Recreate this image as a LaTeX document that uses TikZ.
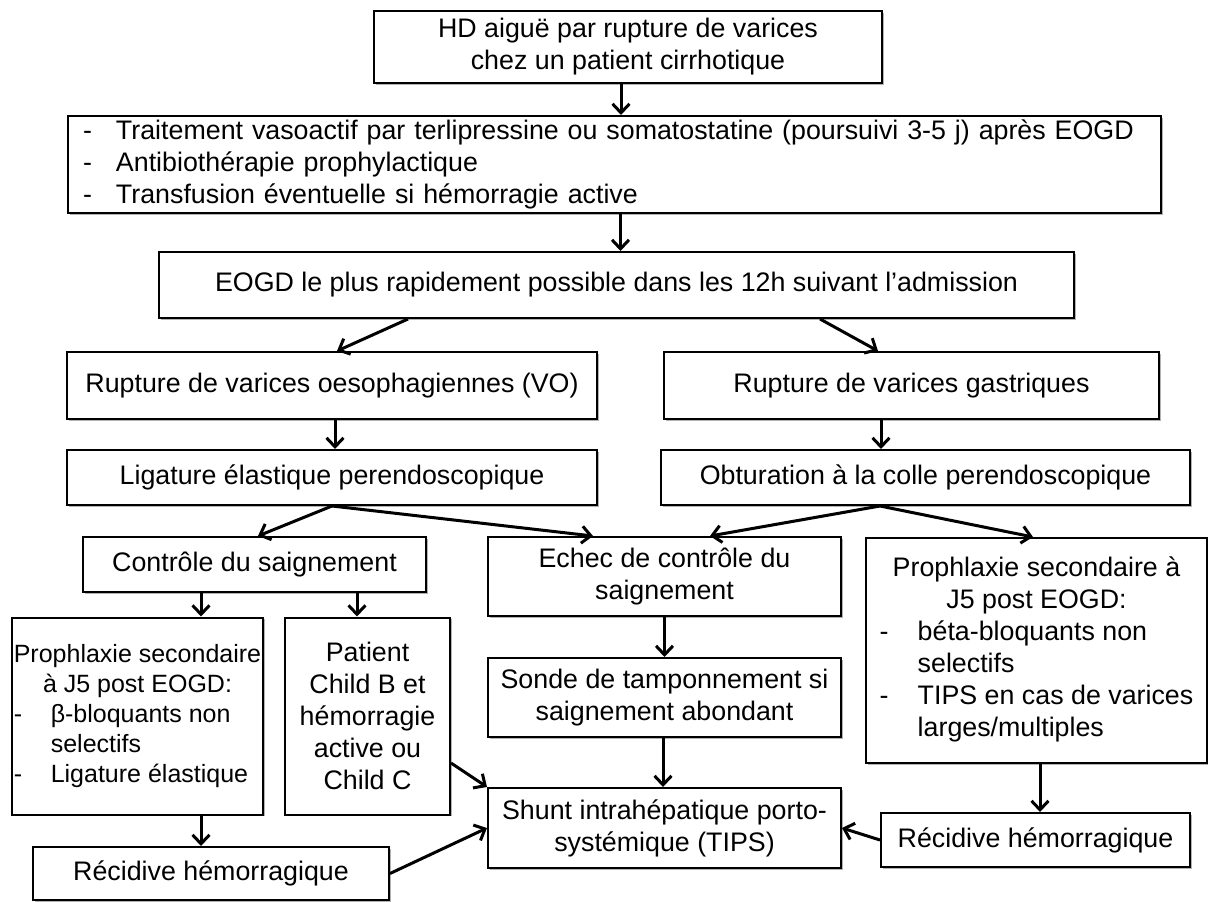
\documentclass[tikz,border=0pt]{standalone}
\usepackage{fontspec}
\setmainfont{Liberation Sans}
\usepackage{tikz}
\usetikzlibrary{positioning, arrows.meta, shadows, calc}
\newcommand{\Dash}[1][37pt]{\makebox[#1][l]{-}}
\tikzset{
    box/.style={draw, line width=2pt, fill=white, inner sep=0pt, align=center,
      font=\fontsize{26.8pt}{32pt}\selectfont,
      drop shadow={shadow xshift=1.5pt, shadow yshift=-1.5pt, opacity=0.3, fill=black}},
    flow/.style={line width=3pt, -{Straight Barb[length=9pt,width=17pt]}},
}

\begin{document}
\begin{tikzpicture}[x=1pt, y=-1pt]
    \useasboundingbox (0,0) rectangle (1208,902);

    \node[box, minimum width=508, minimum height=72] (hd) at (628,47)
      {HD aiguë par rupture de varices\\chez un patient cirrhotique};
    \node[box, minimum width=1093, minimum height=97, text width=1063, align=left] (trt) at (614.5,164.5)
      {\Dash[33pt]Traitement vasoactif par terlipressine ou somatostatine (poursuivi 3-5 j) après EOGD\\
       \Dash[33pt]Antibiothérapie prophylactique\\
       \Dash[33pt]Transfusion éventuelle si hémorragie active};
    \node[box, minimum width=915, minimum height=66] (eogd) at (616.5,285)
      {EOGD le plus rapidement possible dans les 12h suivant l’admission};

    \node[box, minimum width=530, minimum height=67] (vo) at (332,385.5)
      {Rupture de varices oesophagiennes (VO)};
    \node[box, minimum width=495, minimum height=67] (gas) at (911.5,385.5)
      {Rupture de varices gastriques};
    \node[box, minimum width=530, minimum height=55] (lig) at (332,477.5)
      {Ligature élastique perendoscopique};
    \node[box, minimum width=529, minimum height=55] (obt) at (925.5,477.5)
      {Obturation à la colle perendoscopique};

    \node[box, minimum width=343, minimum height=55] (ctrl) at (254.5,564.5)
      {Contrôle du saignement};
    \node[box, minimum width=353, minimum height=79] (echec) at (664.5,576.5)
      {Echec de contrôle du\\saignement};
    \node[box, minimum width=341, minimum height=225] (proR) at (1036.5,650.5)
      {\begin{tabular}{@{}l@{}l@{}}
         \multicolumn{2}{@{}c@{}}{Prophlaxie secondaire à}\\
         \multicolumn{2}{@{}c@{}}{J5 post EOGD:}\\
         \Dash[38pt] & béta-bloquants non\\
                     & selectifs\\
         \Dash[38pt] & TIPS en cas de varices\\
                     & larges/multiples
       \end{tabular}};

    \node[box, minimum width=251, minimum height=197, font=\fontsize{25pt}{30pt}\selectfont] (proL) at (137.5,716)
      {\begin{tabular}{@{}l@{}l@{}}
         \multicolumn{2}{@{}c@{}}{Prophlaxie secondaire}\\
         \multicolumn{2}{@{}c@{}}{à J5 post EOGD:}\\
         \Dash & β-bloquants non\\
               & selectifs\\
         \Dash & Ligature élastique
       \end{tabular}};
    \node[box, minimum width=165, minimum height=197] (pat) at (367.5,716)
      {Patient\\Child B et\\hémorragie\\active ou\\Child C};
    \node[box, minimum width=353, minimum height=79] (sonde) at (664.5,697.5)
      {Sonde de tamponnement si\\saignement abondant};
    \node[box, minimum width=353, minimum height=80] (shunt) at (664.5,828)
      {Shunt intrahépatique porto-\\systémique (TIPS)};
    \node[box, minimum width=356, minimum height=53] (recL) at (211,873.5)
      {Récidive hémorragique};
    \node[box, minimum width=309, minimum height=54] (recR) at (1035.5,840)
      {Récidive hémorragique};

    \draw[flow] ([xshift=-7pt]hd.south) -- ([xshift=-7pt]hd.south |- trt.north);
    \draw[flow] ([xshift=6pt]trt.south) -- ([xshift=6pt]trt.south |- eogd.north);
    \draw[flow] ([xshift=-208.5pt]eogd.south) -- ([xshift=5pt]vo.north);
    \draw[flow] ([xshift=203.5pt]eogd.south) -- ([xshift=-33.5pt]gas.north);
    \draw[flow] ([xshift=3pt]vo.south) -- ([xshift=3pt]lig.north);
    \draw[flow] ([xshift=-30.5pt]gas.south) -- ([xshift=-44.5pt]obt.north);
    \draw[flow] (lig.south) -- ([xshift=3.5pt]ctrl.north);
    \draw[flow] (lig.south) -- ([xshift=-71.5pt]echec.north);
    \draw[flow] ([xshift=-45.5pt]obt.south) -- ([xshift=45.5pt]echec.north);
    \draw[flow] ([xshift=-45.5pt]obt.south) -- ([xshift=-3.5pt]proR.north);
    \draw[flow] ([xshift=-53.5pt]ctrl.south) -- ([xshift=-53.5pt]ctrl.south |- proL.north);
    \draw[flow] ([xshift=102.5pt]ctrl.south) -- ([xshift=102.5pt]ctrl.south |- pat.north);
    \draw[flow] ([xshift=63.5pt]proL.south) -- ([xshift=63.5pt]proL.south |- recL.north);
    \draw[flow] (echec.south) -- (sonde.north);
    \draw[flow] ([xshift=-1.5pt]sonde.south) -- ([xshift=-1.5pt]shunt.north);
    \draw[flow] ([yshift=-47pt]pat.east) -- (shunt.north west);
    \draw[flow] (recL.east) -- (shunt.west);
    \draw[flow] ([xshift=3.5pt]proR.south) -- ([xshift=3.5pt]proR.south |- recR.north);
    \draw[flow] (recR.west) -- (shunt.east);
\end{tikzpicture}
\end{document}
